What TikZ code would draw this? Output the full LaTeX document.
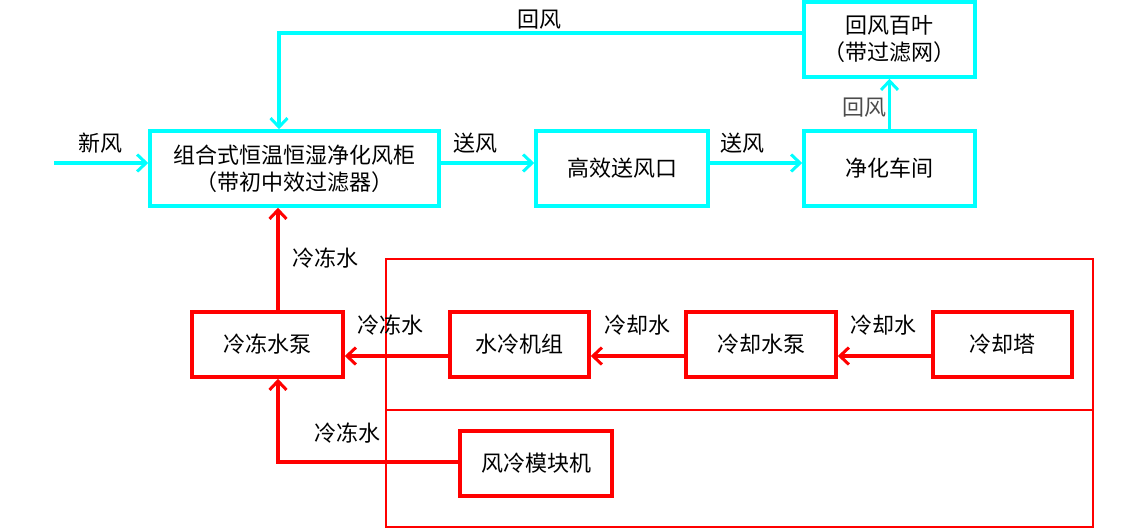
\documentclass[tikz,border=0pt]{standalone}
\usepackage{fontspec}
\setmainfont{Noto Sans CJK SC}
\usetikzlibrary{arrows.meta}
\definecolor{cy}{RGB}{0,255,255}
\definecolor{rd}{RGB}{255,0,0}
\begin{document}
\begin{tikzpicture}[x=1pt,y=-1pt,
  font=\fontsize{22}{27}\selectfont,
  cbox/.style={draw=cy,line width=3.5pt,inner sep=0pt,minimum height=75pt,align=center},
  rbox/.style={draw=rd,line width=3.5pt,inner sep=0pt,minimum height=65pt,align=center},
  cline/.style={draw=cy,line width=3.5pt,-{Straight Barb[length=9pt,width=17pt,line width=3pt]}},
  rline/.style={draw=rd,line width=3.5pt,-{Straight Barb[length=9pt,width=17pt,line width=3pt]}},
  lbl/.style={inner sep=0pt,text=black}]
\useasboundingbox (0,0) rectangle (1121,531);
% cyan boxes
\node[cbox,minimum width=289pt] (main) at (294.5,168.5) {组合式恒温恒湿净化风柜\\（带初中效过滤器）};
\node[cbox,minimum width=172pt] (gxs) at (622,168.5) {高效送风口};
\node[cbox,minimum width=171pt] (jh) at (889.5,168.5) {净化车间};
\node[cbox,minimum width=171pt] (hf) at (889.5,39.5) {回风百叶\\（带过滤网）};
% red boxes
\node[rbox,minimum width=151pt] (ldb) at (267.5,344.5) {冷冻水泵};
\node[rbox,minimum width=139pt] (slj) at (519.5,344.5) {水冷机组};
\node[rbox,minimum width=150pt] (lqb) at (761,344.5) {冷却水泵};
\node[rbox,minimum width=139pt] (lqt) at (1002.5,344.5) {冷却塔};
\node[rbox,minimum width=152pt] (fl) at (536,463.5) {风冷模块机};
% outer red frame
\draw[rd,line width=1.5pt] (386,259) rectangle (1093,527);
\draw[rd,line width=2pt] (386,410) -- (1093,410);
% coordinates
\coordinate (xin) at (54,163);
\coordinate (ret) at (279,33);
\coordinate (vx) at (278,0);
\coordinate (ry) at (0,356);
\coordinate (fy) at (0,462);
% cyan connectors
\draw[cline] (xin) -- (xin -| main.west);
\draw[cline] (main.east |- xin) -- (gxs.west |- xin);
\draw[cline] (gxs.east |- xin) -- (jh.west |- xin);
\draw[cline] (jh.north) -- (hf.south);
\draw[cline] (hf.west |- ret) -- (ret) -- (ret |- main.north);
% red connectors
\draw[rline] (vx |- ldb.north) -- (vx |- main.south);
\draw[rline] (slj.west |- ry) -- (ldb.east |- ry);
\draw[rline] (lqb.west |- ry) -- (slj.east |- ry);
\draw[rline] (lqt.west |- ry) -- (lqb.east |- ry);
\draw[rline] (fl.west |- fy) -- (vx |- fy) -- (vx |- ldb.south);
% labels
\node[lbl] (l1) at (539,20) {回风};
\node[lbl] (l2) at (100,143) {新风};
\node[lbl] (l3) at (475,143) {送风};
\node[lbl] (l4) at (742,143) {送风};
\node[lbl,text=black!70] (l5) at (864,108) {回风};
\node[lbl] (l6) at (325,258) {冷冻水};
\node[lbl] (l7) at (390,325) {冷冻水};
\node[lbl] (l8) at (637,325) {冷却水};
\node[lbl] (l9) at (883,325) {冷却水};
\node[lbl] (l10) at (347,433) {冷冻水};
\end{tikzpicture}
\end{document}
